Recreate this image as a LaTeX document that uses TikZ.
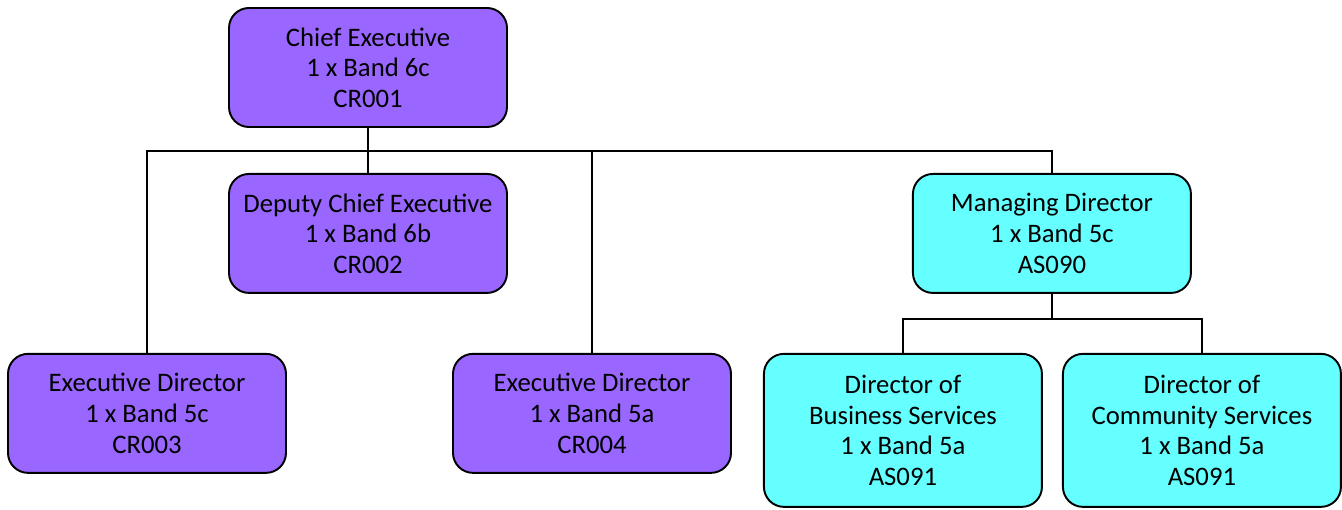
\documentclass[tikz,border=0pt]{standalone}
\usepackage{fontspec}
\setmainfont{Carlito}
\usepackage{xcolor}
\usetikzlibrary{positioning}
\definecolor{corpurple}{HTML}{9966FF}
\definecolor{corcyan}{HTML}{66FFFF}
\tikzset{
    post/.style={
        rectangle,
        draw=black,
        line width=1.1pt,
        rounded corners=0.4cm,
        minimum width=5.56cm,
        minimum height=2.38cm,
        align=center,
        font=\fontsize{15.2}{17.4}\selectfont
    },
    council/.style={
        post,
        fill=corpurple
    },
    trust/.style={
        post,
        fill=corcyan
    },
    link/.style={
        draw=black,
        line width=0.9pt
    }
}
\begin{document}
\begin{tikzpicture}
\useasboundingbox (0,0) rectangle (26.84,-10.2);

% Top level
\node[council] (ceo) at (7.36,-1.35) {Chief Executive\\1 x Band 6c\\CR001};
\node[council, below=0.9cm of ceo] (deputy) {Deputy Chief Executive\\1 x Band 6b\\CR002};
\node[trust, right=8.08cm of deputy] (md) {Managing Director\\1 x Band 5c\\AS090};

% Executive directors
\node[council, below=1.18cm of deputy, xshift=-4.42cm] (ed_a) {Executive Director\\1 x Band 5c\\CR003};
\node[council, below=1.18cm of deputy, xshift=4.48cm] (ed_b) {Executive Director\\1 x Band 5a\\CR004};

% Service directors
\node[trust, below=1.18cm of md, xshift=-2.98cm, minimum height=3.06cm] (dbs) {Director of\\Business Services\\1 x Band 5a\\AS091};
\node[trust, below=1.18cm of md, xshift=3.0cm, minimum height=3.06cm] (dcs) {Director of\\Community Services\\1 x Band 5a\\AS091};

% Reporting lines
\coordinate (bus) at (0,-3.02);
\draw[link] (ceo.south) -- (deputy.north);
\draw[link] (ed_a.north) -- (ed_a.north |- bus) -- (md.north |- bus) -- (md.north);
\draw[link] (ed_b.north) -- (ed_b.north |- bus);
\draw[link] (md.south) -- ++(0,-0.5) -| (dbs.north);
\draw[link] (md.south) -- ++(0,-0.5) -| (dcs.north);

\end{tikzpicture}
\end{document}
